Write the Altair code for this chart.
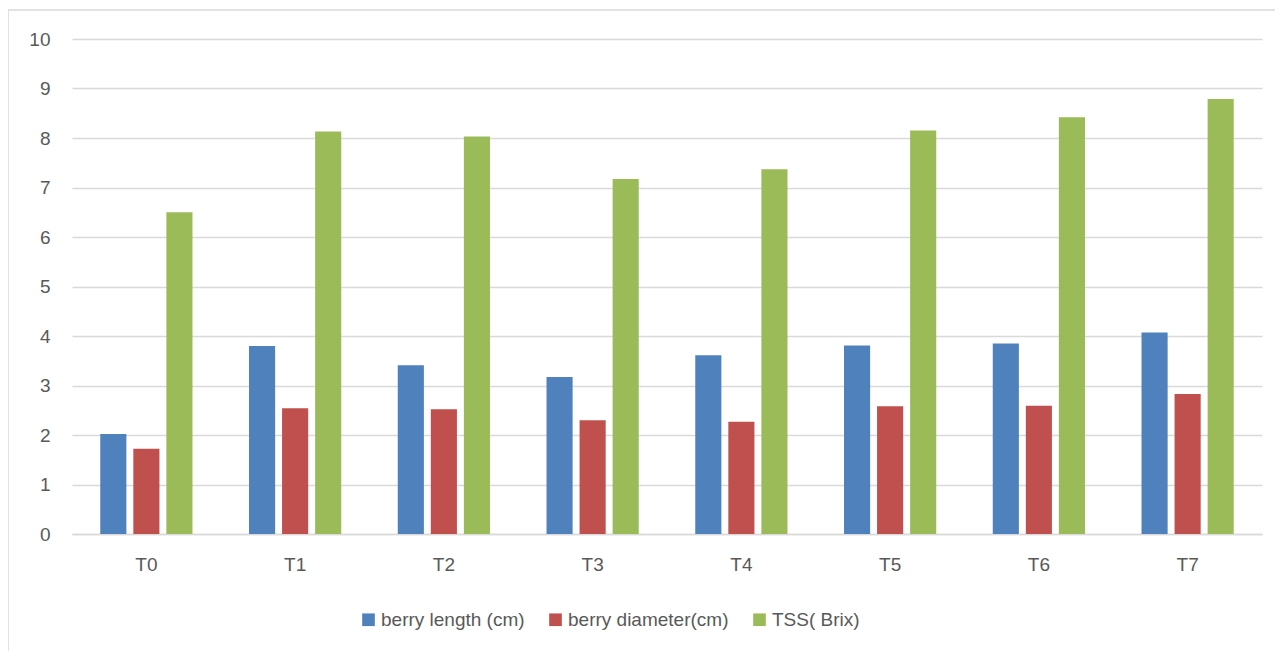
import altair as alt
import pandas as pd

categories = ["T0", "T1", "T2", "T3", "T4", "T5", "T6", "T7"]
series = ["berry length (cm)", "berry diameter(cm)", "TSS( Brix)"]
berry_length = [2.02, 3.80, 3.41, 3.17, 3.61, 3.81, 3.85, 4.07]
berry_diameter = [1.72, 2.54, 2.52, 2.30, 2.27, 2.58, 2.59, 2.83]
tss_brix = [6.50, 8.13, 8.03, 7.17, 7.37, 8.15, 8.42, 8.79]
colors = ["#4F81BD", "#C0504D", "#9BBB59"]

rows = []
for s, vals in zip(series, [berry_length, berry_diameter, tss_brix]):
    for c, v in zip(categories, vals):
        rows.append({"cat": c, "series": s, "value": v})
df = pd.DataFrame(rows)

W, H = 1190, 495
FONT = "Liberation Sans"
FS = 19

bars = alt.Chart(df).mark_bar().encode(
    x=alt.X("cat:N", sort=categories, title=None,
            scale=alt.Scale(paddingInner=0.38, paddingOuter=0.19),
            axis=alt.Axis(labelAngle=0, ticks=False, labelPadding=21,
                          domainColor="#d9d9d9", domainWidth=1.5,
                          labelFont=FONT, labelFontSize=FS, labelColor="#595959")),
    xOffset=alt.XOffset("series:N", sort=series,
                        scale=alt.Scale(domain=series, paddingInner=0.21, paddingOuter=0)),
    y=alt.Y("value:Q", title=None,
            scale=alt.Scale(domain=[0, 10], nice=False),
            axis=alt.Axis(values=list(range(0, 11)), ticks=False, domain=False,
                          labelPadding=22, gridColor="#d9d9d9", gridWidth=1.5,
                          labelFont=FONT, labelFontSize=FS, labelColor="#595959")),
    color=alt.Color("series:N", sort=series,
                    scale=alt.Scale(domain=series, range=colors),
                    legend=alt.Legend(title=None, orient="none", direction="horizontal",
                                      legendX=287, legendY=571,
                                      symbolType="square", symbolSize=160,
                                      symbolStrokeWidth=0, symbolOpacity=1,
                                      labelFont=FONT, labelFontSize=FS,
                                      labelColor="#595959", labelOffset=3,
                                      labelLimit=400,
                                      columnPadding=21, padding=0)),
)

border = alt.Chart(pd.DataFrame({"k": [0]})).mark_rect(
    fill=None, stroke="#d9d9d9", strokeWidth=1.5, clip=False
).encode(
    x=alt.value(-64), x2=alt.value(1220),
    y=alt.value(-29), y2=alt.value(640),
)

chart = alt.layer(border, bars).properties(
    width=W, height=H,
    autosize=alt.AutoSizeParams(type="none"),
    padding={"left": 64, "top": 31, "right": 13, "bottom": 125},
    background="white",
).configure_view(strokeWidth=0, stroke="transparent")

chart.save("out.html", embed_options={"renderer": "svg", "actions": False})
